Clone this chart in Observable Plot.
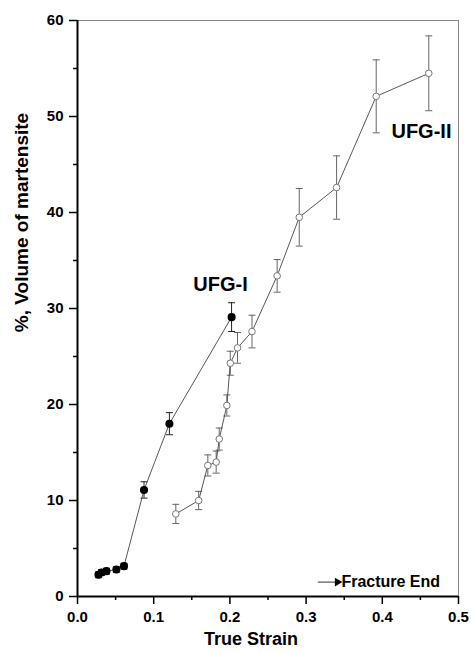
<!DOCTYPE html>
<html>
<head>
<meta charset="utf-8">
<script src="https://cdn.jsdelivr.net/npm/d3@7"></script>
<script src="https://cdn.jsdelivr.net/npm/@observablehq/plot@0.6"></script>
<style>
  html, body { margin: 0; padding: 0; background: #fff; }
  #chart { width: 471px; height: 653px; }
</style>
</head>
<body>
<div id="chart"></div>
<script>
// UFG-I (filled circles)
const ufg1Strain = [0.0275, 0.0315, 0.038, 0.051, 0.061, 0.0873, 0.1206, 0.2022];
const ufg1Volume = [2.26, 2.5, 2.64, 2.81, 3.16, 11.1, 18.0, 29.1];
const ufg1Err    = [0.3, 0.3, 0.3, 0.3, 0.3, 0.85, 1.15, 1.5];

// UFG-II (open circles)
const ufg2Strain = [0.129, 0.159, 0.171, 0.182, 0.186, 0.196, 0.2005, 0.210, 0.229, 0.262, 0.291, 0.340, 0.392, 0.461];
const ufg2Volume = [8.6, 10.0, 13.65, 14.0, 16.4, 19.9, 24.3, 25.9, 27.6, 33.4, 39.5, 42.6, 52.1, 54.5];
const ufg2Err    = [1.0, 0.95, 1.1, 1.15, 1.15, 1.1, 1.25, 1.6, 1.7, 1.7, 3.0, 3.3, 3.8, 3.9];

// Ticks
const xMajorTicks = [0, 0.1, 0.2, 0.3, 0.4, 0.5];
const xMinorTicks = [0.05, 0.15, 0.25, 0.35, 0.45];
const yMajorTicks = [0, 10, 20, 30, 40, 50, 60];
const yMinorTicks = [5, 15, 25, 35, 45, 55];

// Annotations
const seriesLabels = [
  {name: "UFG-I", strain: 0.152, volume: 32.5},
  {name: "UFG-II", strain: 0.412, volume: 48.4}
];
const legendText = "Fracture End";
const legendArrow = {x1: 0.316, x2: 0.345, y: 1.5};
const xTitle = "True Strain";
const yTitle = "%, Volume of martensite";

const ufg1 = ufg1Strain.map((x, i) => ({x, y: ufg1Volume[i], e: ufg1Err[i]}));
const ufg2 = ufg2Strain.map((x, i) => ({x, y: ufg2Volume[i], e: ufg2Err[i]}));

const capSymbol = {
  draw(ctx, size) {
    const w = Math.sqrt(size / Math.PI);
    ctx.moveTo(-w, 0);
    ctx.lineTo(w, 0);
  }
};

function errorMarks(data, color) {
  return [
    Plot.ruleX(data, {x: "x", y1: d => d.y - d.e, y2: d => d.y + d.e, stroke: color, strokeWidth: 1}),
    Plot.dot(data, {x: "x", y: d => d.y + d.e, symbol: capSymbol, r: 3.5, stroke: color, strokeWidth: 1, fill: "none"}),
    Plot.dot(data, {x: "x", y: d => d.y - d.e, symbol: capSymbol, r: 3.5, stroke: color, strokeWidth: 1, fill: "none"})
  ];
}

const font = "'Liberation Sans', Arial, Helvetica, sans-serif";

const chart = Plot.plot({
  width: 471,
  height: 653,
  marginLeft: 77,
  marginRight: 13,
  marginTop: 20,
  marginBottom: 57,
  style: {fontFamily: font, background: "#fff", color: "#000", overflow: "visible"},
  x: {domain: [0, 0.5]},
  y: {domain: [0, 60]},
  marks: [
    // frame top & right
    Plot.ruleY([60], {stroke: "#888", strokeWidth: 1}),
    Plot.ruleX([0.5], {stroke: "#888", strokeWidth: 1}),
    // axes
    Plot.axisX({ticks: xMinorTicks, tickSize: 4, tickFormat: null, text: null, strokeWidth: 1.5}),
    Plot.axisX({ticks: xMajorTicks, tickSize: 8, tickPadding: 7, tickFormat: d3.format(".1f"), fontSize: 15, fontWeight: "bold", strokeWidth: 1.5, label: null}),
    Plot.axisY({ticks: yMinorTicks, tickSize: 4, tickFormat: null, text: null, strokeWidth: 1.5}),
    Plot.axisY({ticks: yMajorTicks, tickSize: 8, tickPadding: 6, fontSize: 15, fontWeight: "bold", strokeWidth: 1.5, label: null}),
    Plot.ruleY([0], {stroke: "#000", strokeWidth: 2}),
    Plot.ruleX([0], {stroke: "#000", strokeWidth: 2}),
    // titles
    Plot.text([xTitle], {frameAnchor: "bottom", dy: 48, dx: -17, text: d => d, fontSize: 18, fontWeight: "bold"}),
    Plot.text([yTitle], {frameAnchor: "left", textAnchor: "middle", dx: -56, dy: -86, rotate: -90, text: d => d, fontSize: 19, fontWeight: "bold"}),
    // error bars
    ...errorMarks(ufg1, "#222"),
    ...errorMarks(ufg2, "#666"),
    // lines
    Plot.line(ufg1, {x: "x", y: "y", stroke: "#444", strokeWidth: 0.9}),
    Plot.line(ufg2, {x: "x", y: "y", stroke: "#444", strokeWidth: 0.9}),
    // points
    Plot.dot(ufg1, {x: "x", y: "y", r: 3.3, fill: "#000", stroke: "#000"}),
    Plot.dot(ufg2, {x: "x", y: "y", r: 3.3, fill: "#fff", stroke: "#777", strokeWidth: 1}),
    // series labels
    Plot.text(seriesLabels, {x: "strain", y: "volume", text: "name", textAnchor: "start", fontSize: 20, fontWeight: "bold", fill: "#000"}),
    // legend
    Plot.ruleY([legendArrow], {x1: "x1", x2: "x2", y: "y", stroke: "#333", strokeWidth: 1}),
    Plot.dot([legendArrow], {x: "x2", y: "y", symbol: "triangle", rotate: 90, r: 3.2, fill: "#000", stroke: "none", dx: -3}),
    Plot.text([legendArrow], {x: "x2", y: "y", text: () => legendText, textAnchor: "start", dx: 1, fontSize: 16, fontWeight: "bold", fill: "#000"})
  ]
});

document.getElementById("chart").appendChild(chart);
</script>
</body>
</html>
